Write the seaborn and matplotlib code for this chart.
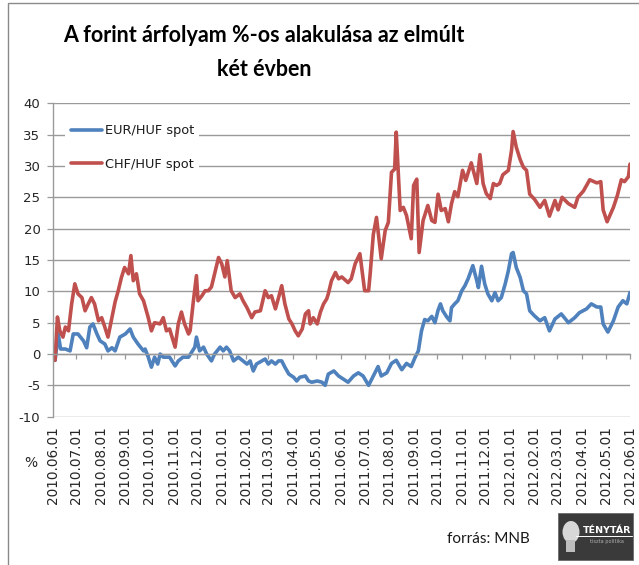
import numpy as np
import pandas as pd
import matplotlib
matplotlib.use("Agg")
import matplotlib.pyplot as plt
import matplotlib.dates as mdates
from matplotlib.patches import Rectangle, Ellipse
import seaborn as sns

# ---------------- data ----------------
start_date = "2010-06-01"

eur_days = [0, 3, 7, 10, 16, 22, 26, 32, 39, 43, 47, 51, 56, 60, 66, 70, 75, 79, 85, 92,
            98, 102, 108, 115, 117, 121, 125, 129, 133, 136, 140, 148, 155, 159, 165, 172,
            176, 180, 182, 186, 191, 195, 201, 205, 212, 216, 220, 224, 229, 235, 241, 246,
            250, 254, 258, 265, 269, 273, 277, 282, 286, 290, 294, 299, 305, 309, 313, 320,
            324, 328, 335, 341, 345, 349, 356, 362, 368, 374, 381, 387, 393, 400, 406, 412,
            416, 423, 429, 435, 442, 448, 454, 459, 463, 467, 471, 475, 480, 484, 488, 491,
            494, 499, 503, 505, 509, 513, 518, 522, 526, 532, 537, 539, 543, 547, 551, 556,
            560, 564, 568, 573, 577, 581, 583, 587, 592, 596, 600, 604, 610, 617, 623, 629,
            636, 644, 653, 661, 667, 676, 682, 689, 694, 697, 703, 710, 716, 722, 727, 731]
eur_vals = [0, -1, 3.2, 0.8, 0.8, 0.5, 3.2, 3.2, 2.1, 1.0, 4.3, 4.8, 3.2, 2.1, 1.6, 0.5, 1.0,
            0.5, 2.7, 3.2, 4.0, 2.7, 1.6, 0.5, 0.8, -0.5, -2.1, -0.5, -1.6, 0, -0.5, -0.5,
            -1.9, -1.1, -0.5, -0.5, 0.3, 1.1, 2.7, 0.5, 1.1, 0, -1.1, 0, 1.1, 0.5, 1.1, 0.5,
            -1.1, -0.5, -1.1, -1.6, -1.1, -2.7, -1.6, -1.1, -0.8, -1.6, -1.1, -1.6, -1.1,
            -1.1, -2.1, -3.2, -3.7, -4.3, -3.7, -3.5, -4.3, -4.5, -4.3, -4.5, -5.0, -3.2,
            -2.7, -3.5, -4.0, -4.5, -3.5, -3.0, -3.5, -5.0, -3.5, -2.0, -3.5, -3.0, -1.5,
            -1.0, -2.5, -1.5, -2.0, -0.5, 0.5, 3.7, 5.5, 5.3, 6.0, 5.0, 7.0, 8.0, 6.9, 5.9,
            5.3, 7.4, 8.0, 8.5, 10.1, 10.9, 12.0, 14.1, 11.7, 10.6, 14.0, 11.2, 9.6, 8.5,
            9.8, 8.5, 9.0, 11.2, 13.3, 16.0, 16.2, 13.8, 12.2, 10.1, 9.6, 6.9, 6.1, 5.3,
            5.8, 3.7, 5.6, 6.4, 5.0, 5.8, 6.6, 7.2, 8.0, 7.5, 7.5, 4.8, 3.5, 5.3, 7.5, 8.5,
            8.0, 9.8]

chf_days = [0, 3, 6, 9, 13, 16, 20, 24, 28, 32, 37, 41, 45, 49, 53, 58, 62, 66, 70, 75,
            79, 83, 87, 91, 96, 99, 102, 106, 110, 115, 121, 125, 129, 136, 140, 144, 148,
            155, 159, 163, 167, 172, 174, 178, 182, 184, 189, 193, 197, 201, 205, 210, 214,
            218, 221, 226, 231, 237, 241, 246, 252, 256, 263, 269, 273, 277, 282, 286, 290,
            294, 299, 303, 307, 311, 316, 320, 324, 326, 330, 335, 339, 343, 347, 349, 353,
            358, 362, 366, 374, 378, 383, 389, 395, 400, 402, 406, 410, 416, 421, 425, 429,
            433, 435, 440, 444, 448, 454, 457, 461, 464, 469, 475, 480, 484, 488, 492, 497,
            501, 505, 509, 513, 519, 523, 530, 537, 541, 545, 549, 554, 558, 562, 566, 570,
            577, 581, 583, 587, 592, 596, 600, 604, 610, 617, 623, 629, 636, 640, 645, 653,
            661, 665, 672, 680, 689, 694, 697, 702, 710, 715, 720, 724, 729, 731]
chf_vals = [0, -1, 5.9, 3.7, 2.7, 4.3, 3.7, 8.0, 11.2, 9.6, 9.0, 6.9, 8.0, 9.0, 8.0, 5.3,
            5.8, 4.3, 2.7, 5.8, 8.3, 10.1, 12.2, 13.8, 12.8, 15.7, 11.7, 12.8, 9.6, 8.5, 5.8,
            3.7, 5.0, 4.8, 5.8, 3.7, 4.0, 1.1, 4.8, 6.7, 4.8, 3.2, 3.7, 8.3, 12.5, 8.5, 9.3,
            10.1, 10.1, 10.7, 12.8, 15.4, 14.4, 12.3, 14.9, 10.1, 9.0, 9.6, 8.5, 7.4, 5.8,
            6.7, 6.9, 10.1, 9.0, 9.3, 7.2, 9.0, 10.9, 8.0, 5.6, 4.8, 3.7, 2.9, 4.0, 6.4, 6.9,
            4.8, 5.8, 4.8, 6.7, 8.0, 8.8, 9.6, 11.7, 13.0, 12.0, 12.3, 11.4, 12.0, 14.4,
            16.0, 10.1, 10.1, 12.8, 19.1, 21.8, 15.2, 19.7, 21.0, 29.0, 29.5, 35.4, 22.9,
            23.4, 22.1, 18.4, 26.9, 27.9, 16.2, 21.3, 23.7, 21.3, 21.0, 25.5, 22.9, 23.2,
            21.1, 24.0, 25.9, 25.1, 29.3, 27.7, 30.5, 27.2, 31.8, 27.2, 25.6, 24.8, 27.2,
            26.9, 27.2, 28.6, 29.3, 32.5, 35.5, 33.0, 31.0, 29.8, 29.3, 25.5, 24.7, 23.4,
            24.5, 22.0, 24.5, 23.0, 25.0, 24.0, 23.4, 25.0, 26.0, 27.8, 27.3, 27.5, 23.0,
            21.1, 23.4, 25.3, 27.8, 27.5, 28.3, 30.3]

series_names = ["EUR/HUF spot", "CHF/HUF spot"]
series_colors = ["#4F81BD", "#C0504D"]

tick_dates = ["2010-06-01", "2010-07-01", "2010-08-01", "2010-09-01", "2010-10-01",
              "2010-11-01", "2010-12-01", "2011-01-01", "2011-02-01", "2011-03-01",
              "2011-04-01", "2011-05-01", "2011-06-01", "2011-07-01", "2011-08-01",
              "2011-09-01", "2011-10-01", "2011-11-01", "2011-12-01", "2012-01-01",
              "2012-02-01", "2012-03-01", "2012-04-01", "2012-05-01", "2012-06-01"]
tick_labels = ["2010.06.01", "2010.07.01", "2010.08.01", "2010.09.01", "2010.10.01",
               "2010.11.01", "2010.12.01", "2011.01.01", "2011.02.01", "2011.03.01",
               "2011.04.01", "2011.05.01", "2011.06.01", "2011.07.01", "2011.08.01",
               "2011.09.01", "2011.10.01", "2011.11.01", "2011.12.01", "2012.01.01",
               "2012.02.01", "2012.03.01", "2012.04.01", "2012.05.01", "2012.06.01"]
y_ticks = [-10, -5, 0, 5, 10, 15, 20, 25, 30, 35, 40]

title_lines = ["A forint árfolyam %-os alakulása az elmúlt", "két évben"]
y_unit = "%"
source_text = "forrás: MNB"
logo_title = "TÉNYTÁR"
logo_sub = "tiszta politika"

# ---------------- build table ----------------
t0 = pd.Timestamp(start_date)
df = pd.concat([
    pd.DataFrame({"date": t0 + pd.to_timedelta(eur_days, unit="D"),
                  "value": eur_vals, "series": series_names[0]}),
    pd.DataFrame({"date": t0 + pd.to_timedelta(chf_days, unit="D"),
                  "value": chf_vals, "series": series_names[1]}),
], ignore_index=True)

# ---------------- figure ----------------
sns.set_theme(style="white")
plt.rcParams["font.family"] = ["DejaVu Sans"]

W, H = 639, 565
fig = plt.figure(figsize=(W / 100, H / 100), dpi=100)
fig.patch.set_facecolor("white")

ax_left, ax_right, ax_top, ax_bottom = 52.7, 630.0, 103.3, 416.7
ax = fig.add_axes([ax_left / W, 1 - ax_bottom / H,
                   (ax_right - ax_left) / W, (ax_bottom - ax_top) / H])
ax.set_facecolor("white")

grid_col = "#9a9a9a"
for v in y_ticks:
    ax.axhline(v, color=grid_col, lw=1.0, zorder=0)

sns.lineplot(data=df, x="date", y="value", hue="series", hue_order=series_names,
             palette=series_colors, linewidth=2.6, ax=ax, sort=True,
             estimator=None, legend=True)

ax.set_xlim(pd.Timestamp(tick_dates[0]), pd.Timestamp(tick_dates[-1]))
ax.set_ylim(-10, 40)
ax.set_xlabel("")
ax.set_ylabel("")

# y axis
ax.set_yticks(y_ticks)
ax.set_yticklabels([str(v) for v in y_ticks])
ax.tick_params(axis="y", direction="out", length=4.3, width=0.9, color=grid_col,
               pad=4.5, labelsize=9.5, labelcolor="#262626", left=True)
for s in ["top", "right"]:
    ax.spines[s].set_visible(False)
ax.spines["left"].set_color(grid_col)
ax.spines["left"].set_linewidth(1.0)

# x axis line at 0 with month ticks
tick_pos = mdates.date2num(pd.to_datetime(tick_dates))
ax.spines["bottom"].set_position(("data", 0))
ax.spines["bottom"].set_color(grid_col)
ax.spines["bottom"].set_linewidth(1.0)
ax.set_xticks(tick_pos)
ax.tick_params(axis="x", direction="out", length=3.8, width=0.9, color=grid_col,
               labelbottom=False, bottom=True)

# labels at the bottom of the plot area
sec = ax.secondary_xaxis("bottom")
sec.set_xticks(tick_pos, labels=tick_labels)
sec.tick_params(axis="x", length=0, pad=7, labelsize=9.8, labelcolor="#262626",
                labelrotation=90)
sec.spines["bottom"].set_visible(False)

# legend
handles, labels = ax.get_legend_handles_labels()
leg = ax.legend(handles, labels, loc="upper left", bbox_to_anchor=(0.022, 0.95),
                borderaxespad=0, frameon=True, facecolor="white", edgecolor="none",
                framealpha=1, fontsize=9.3, handlelength=2.4, handletextpad=0.25,
                labelspacing=1.6, borderpad=0.4)
for t in leg.get_texts():
    t.set_color("#1a1a1a")
for l in leg.get_lines():
    l.set_linewidth(2.6)

# title
title_font = ["Lato", "DejaVu Sans"]
fig.text(264 / W, 1 - 41.7 / H, title_lines[0], ha="center", va="baseline",
         fontsize=15.5, fontweight="bold", family=title_font, color="black")
fig.text(264 / W, 1 - 75.7 / H, title_lines[1], ha="center", va="baseline",
         fontsize=15.5, fontweight="bold", family=title_font, color="black")

# "%" unit label
fig.text(31 / W, 1 - 463 / H, y_unit, ha="center", va="center", fontsize=10,
         color="#262626")

# source
fig.text(488 / W, 1 - 539 / H, source_text, ha="center", va="center",
         fontsize=11, family=["Lato", "DejaVu Sans"], color="#1a1a1a")

# logo box
fig.patches.append(Rectangle((558 / W, 1 - 560 / H), 75 / W, 47 / H,
                             transform=fig.transFigure, facecolor="#3a3a3a",
                             edgecolor="#6a6a6a", lw=0.6, zorder=5))
fig.patches.append(Ellipse((571 / W, 1 - 532 / H), 17 / W, 22 / H,
                           transform=fig.transFigure, facecolor="#d8d8d8",
                           edgecolor="none", zorder=6))
fig.patches.append(Rectangle((566 / W, 1 - 552 / H), 9 / W, 12 / H,
                             transform=fig.transFigure, facecolor="#bdbdbd",
                             edgecolor="none", zorder=6))
fig.text(607 / W, 1 - 533 / H, logo_title, ha="center", va="baseline",
         fontsize=6.8, fontweight="bold", color="white", zorder=7)
fig.lines.append(plt.Line2D([576 / W, 632 / W], [1 - 536 / H, 1 - 536 / H],
                            transform=fig.transFigure, color="white", lw=0.7,
                            zorder=7))
fig.text(607 / W, 1 - 543 / H, logo_sub, ha="center", va="baseline",
         fontsize=3.6, color="#b0b0b0", zorder=7)

# chart area border (left and top visible)
fig.patches.append(Rectangle((7.5 / W, -0.01), 1.0, 1 - 3 / H + 0.01,
                             transform=fig.transFigure, facecolor="none",
                             edgecolor="#8a8a8a", lw=1.0, zorder=10))

fig.savefig("out.png", dpi=100, facecolor="white")
